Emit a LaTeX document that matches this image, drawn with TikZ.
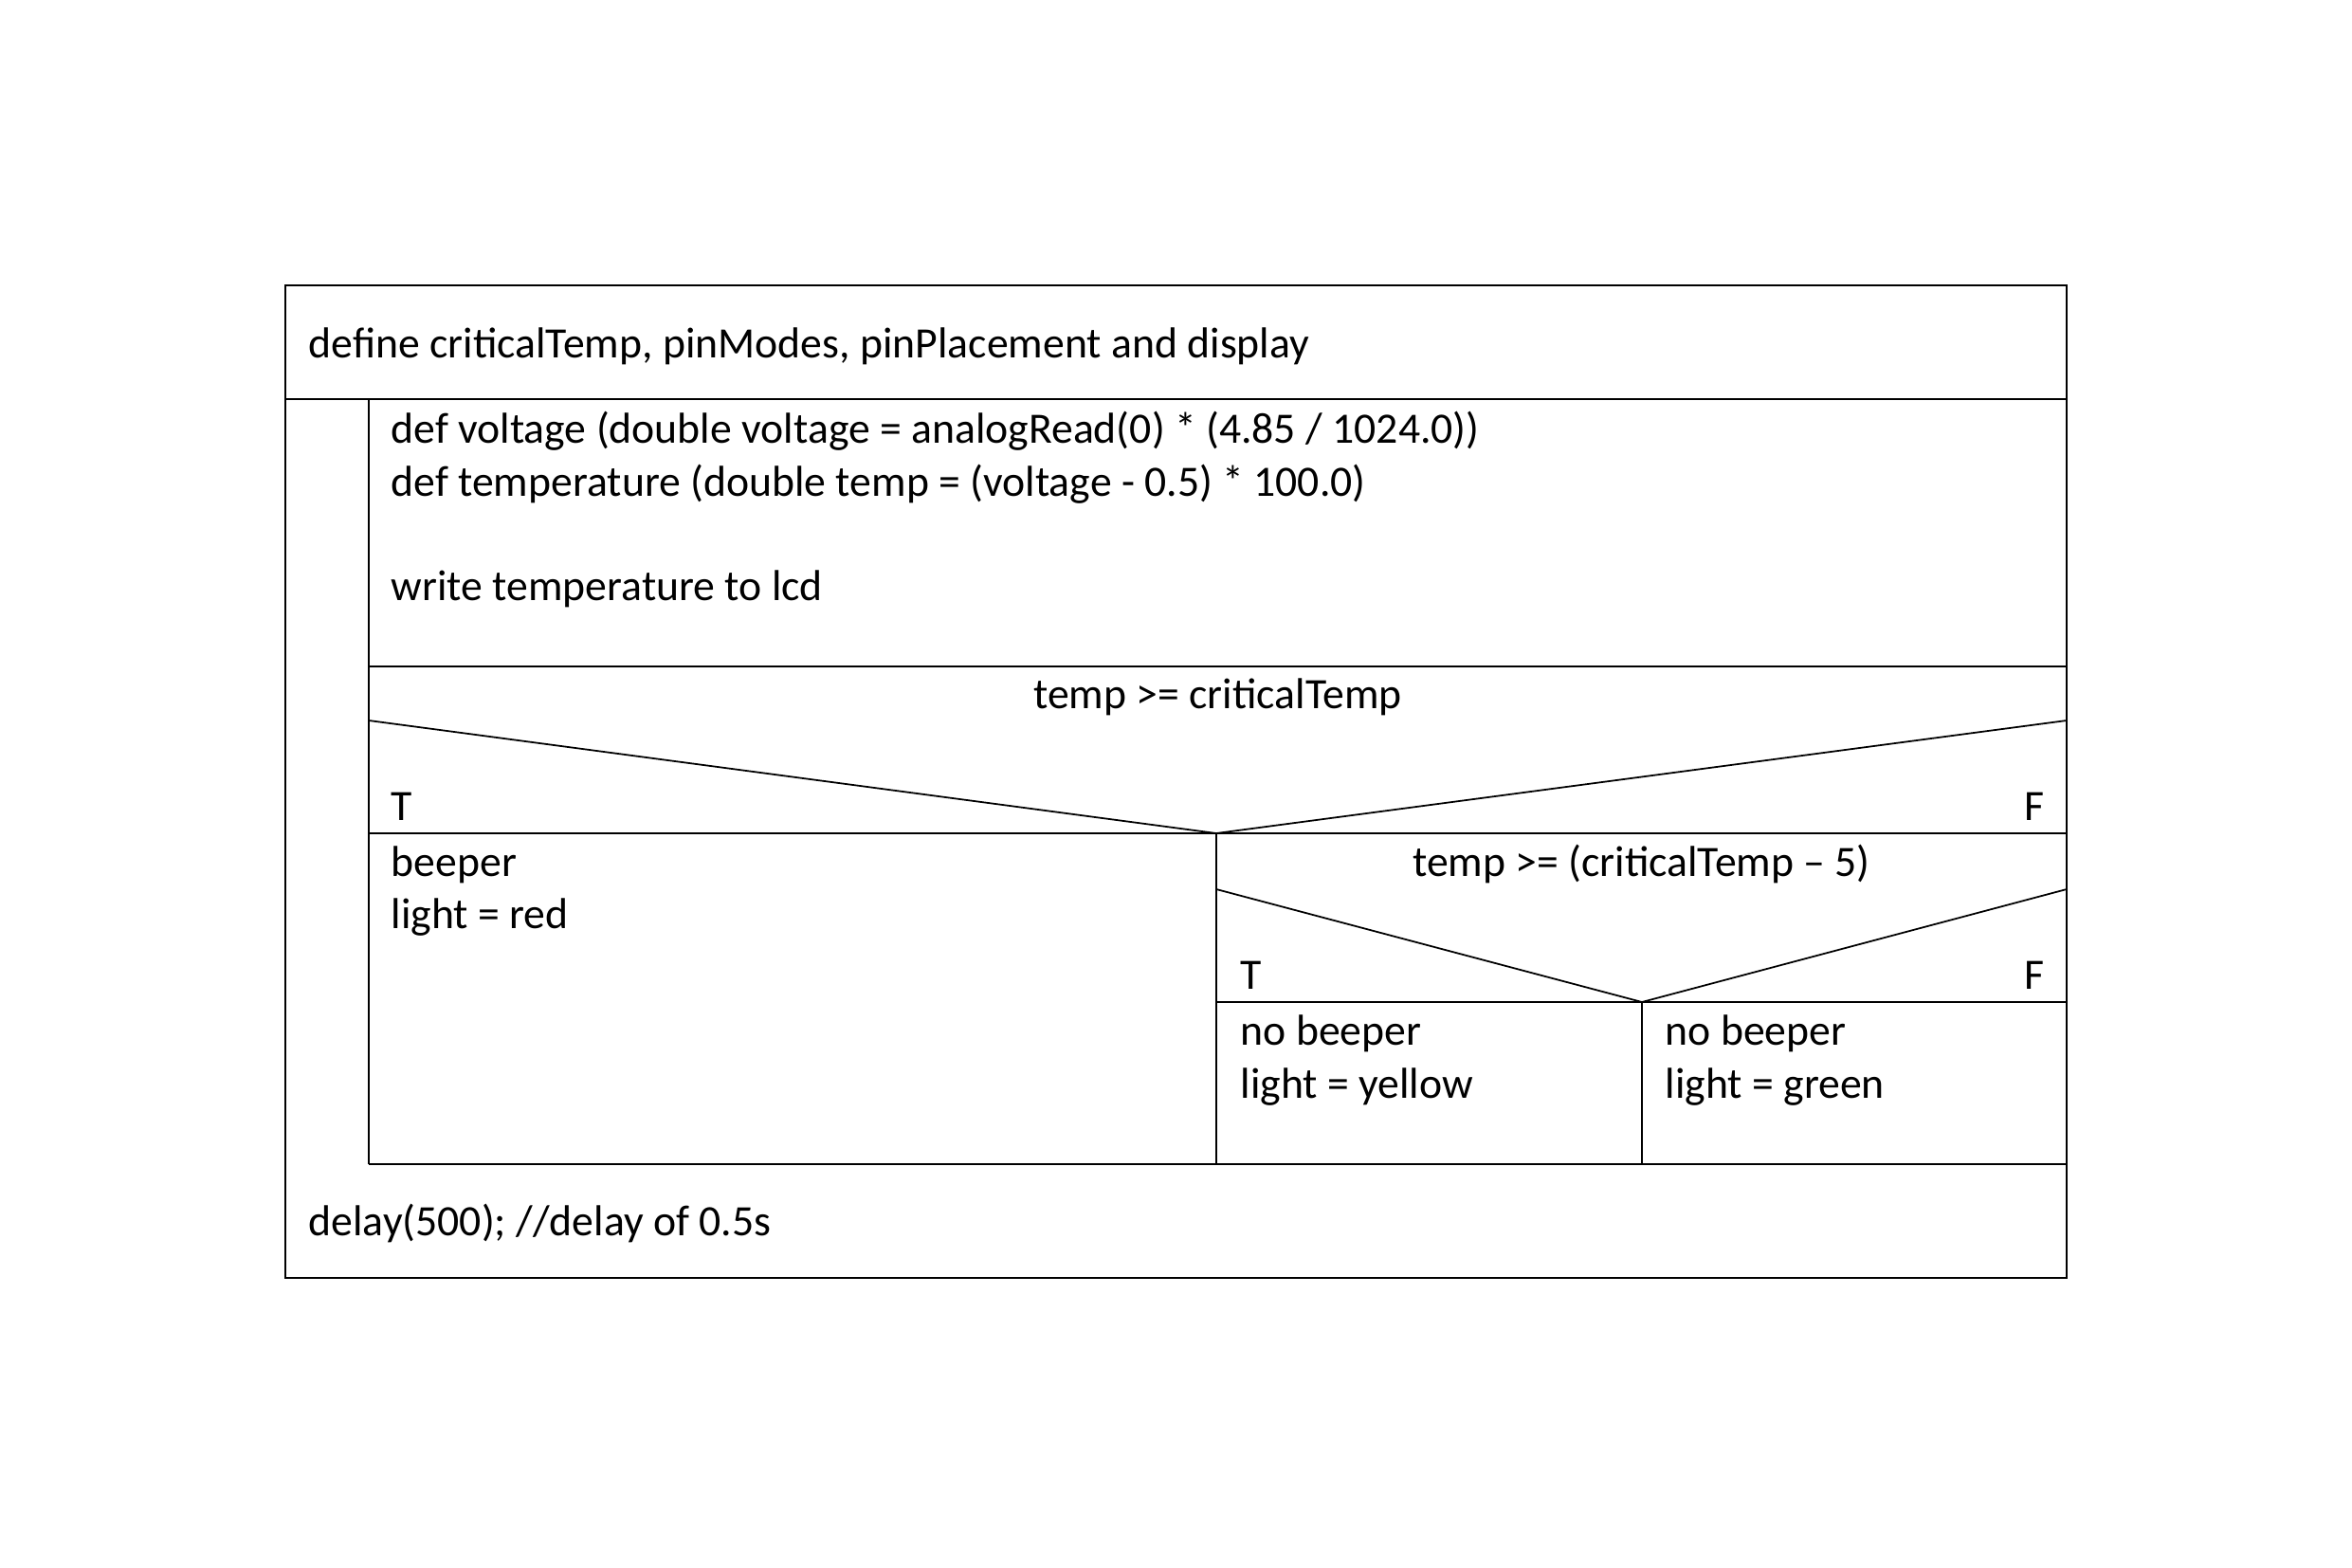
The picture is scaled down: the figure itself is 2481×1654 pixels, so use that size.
\documentclass[tikz,border=0pt]{standalone}
\usepackage{fontspec}
\setmainfont{Carlito}
\begin{document}
\begin{tikzpicture}[x=0.01cm,y=-0.01cm,
  ln/.style={line width=0.5pt,black},
  txt/.style={anchor=base west,inner sep=0pt,font=\fontsize{13pt}{15.8pt}\selectfont},
  ctxt/.style={anchor=base,inner sep=0pt,font=\fontsize{13pt}{15.8pt}\selectfont},
  rtxt/.style={anchor=base east,inner sep=0pt,font=\fontsize{13pt}{15.8pt}\selectfont}]
\useasboundingbox[fill=white] (0,0) rectangle (2481,1654);
% coordinates
\coordinate (TL) at (301,301);
\coordinate (BR) at (2180,1348);
% outer box
\draw[ln] (TL) rectangle (BR);
% header separator
\draw[ln] (301,421) -- (2180,421);
% loop body left line
\draw[ln] (389,421) -- (389,1228);
% body separators
\draw[ln] (389,703) -- (2180,703);
\draw[ln] (389,879) -- (2180,879);
\draw[ln] (389,1228) -- (2180,1228);
% first decision
\coordinate (m1) at (1283,879);
\draw[ln] (389,760) -- (m1) -- (2180,760);
\draw[ln] (m1) -- (1283,1228);
% second decision
\coordinate (m2) at (1732,1057);
\draw[ln] (1283,938) -- (m2) -- (2180,938);
\draw[ln] (1283,1057) -- (2180,1057);
\draw[ln] (m2) -- (1732,1228);
% texts
\node[txt] (t1) at (325,377) {define criticalTemp, pinModes, pinPlacement and display};
\node[txt] (t2) at (412,467.5) {def voltage (double voltage = analogRead(0) * (4.85 / 1024.0))};
\node[txt] (t3) at (412,523) {def temperature (double temp = (voltage - 0.5) * 100.0)};
\node[txt] (t4) at (412,633.3) {write temperature to lcd};
\node[ctxt] (c1) at (1284.5,747.5) {temp >= criticalTemp};
\node[txt] (T1) at (412,865) {T};
\node[rtxt] (F1) at (2157,865) {F};
\node[txt] (b1) at (412,924) {beeper};
\node[txt] (b2) at (412,979.5) {light = red};
\node[ctxt] (c2) at (1731.5,924) {temp >= (criticalTemp – 5)};
\node[txt] (T2) at (1308,1043.5) {T};
\node[rtxt] (F2) at (2157,1043.5) {F};
\node[txt] (y1) at (1308,1102.7) {no beeper};
\node[txt] (y2) at (1308,1158.3) {light = yellow};
\node[txt] (g1) at (1756,1102.7) {no beeper};
\node[txt] (g2) at (1756,1158.3) {light = green};
\node[txt] (d1) at (325,1303.3) {delay(500); //delay of 0.5s};
\end{tikzpicture}
\end{document}
